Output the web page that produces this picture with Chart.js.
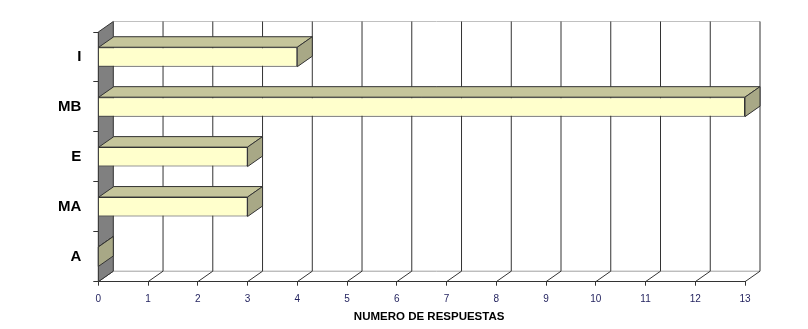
<!DOCTYPE html>
<html>
<head>
<meta charset="utf-8">
<script src="https://cdn.jsdelivr.net/npm/chart.js@4/dist/chart.umd.min.js"></script>
<style>
  html, body { margin: 0; padding: 0; background: #fff; }
  #wrap { width: 808px; height: 329px; }
</style>
</head>
<body>
<div id="wrap"><canvas id="chart" width="808" height="329"></canvas></div>
<script>
// categories, top to bottom
const categories = ['I', 'MB', 'E', 'MA', 'A'];
const respuestas = [4, 13, 3, 3, 0];
const xMin = 0;
const xMax = 13;
const axisTitle = 'NUMERO DE RESPUESTAS';

// depth of the 3D effect
const DX = 15;
const DY = 10.5;

const lineColor = '#333333';
const frontColor = '#ffffcc';
const topColor = '#c5c59b';
const sideColor = '#a8a886';
const wallColor = '#808080';
const fontFamily = 'Arial, "Liberation Sans", sans-serif';

function poly(ctx, pts, fill, stroke) {
    ctx.beginPath();
    ctx.moveTo(pts[0][0], pts[0][1]);
    for (let i = 1; i < pts.length; i++) {
        ctx.lineTo(pts[i][0], pts[i][1]);
    }
    ctx.closePath();
    if (fill) {
        ctx.fillStyle = fill;
        ctx.fill();
    }
    if (stroke) {
        ctx.strokeStyle = stroke;
        ctx.lineWidth = 1;
        ctx.stroke();
    }
}

function line(ctx, x1, y1, x2, y2, color) {
    ctx.beginPath();
    ctx.moveTo(x1, y1);
    ctx.lineTo(x2, y2);
    ctx.strokeStyle = color;
    ctx.lineWidth = 1;
    ctx.stroke();
}

// walls, floor and grid drawn behind the bars, 3D faces on top
const box3d = {
    id: 'box3d',
    beforeDatasetsDraw(chart) {
        const ctx = chart.ctx;
        const { left, right, top, bottom } = chart.chartArea;
        const xs = chart.scales.x;
        ctx.save();
        // back wall top and floor back edge
        line(ctx, left + DX, top - DY, right + DX, top - DY, '#c0c0c0');
        line(ctx, left + DX, bottom - DY, right + DX, bottom - DY, '#a0a0a0');
        // grid lines on back wall and floor
        for (let v = xMin; v <= xMax; v++) {
            const px = xs.getPixelForValue(v);
            line(ctx, px, bottom, px + DX, bottom - DY, lineColor);
            if (v > xMin) {
                line(ctx, px + DX, bottom - DY, px + DX, top - DY, lineColor);
            }
        }
        // left wall
        poly(ctx, [[left, top], [left + DX, top - DY], [left + DX, bottom - DY], [left, bottom]], wallColor, lineColor);
        ctx.restore();
    },
    afterDatasetsDraw(chart) {
        const ctx = chart.ctx;
        const meta = chart.getDatasetMeta(0);
        ctx.save();
        meta.data.forEach((bar) => {
            const p = bar.getProps(['x', 'y', 'base', 'height'], true);
            const x0 = p.base;
            const x1 = p.x;
            const yT = p.y - p.height / 2;
            const yB = p.y + p.height / 2;
            poly(ctx, [[x0, yT], [x0 + DX, yT - DY], [x1 + DX, yT - DY], [x1, yT]], topColor, lineColor);
            poly(ctx, [[x1, yT], [x1 + DX, yT - DY], [x1 + DX, yB - DY], [x1, yB]], sideColor, lineColor);
        });
        ctx.restore();
    },
    afterDraw(chart) {
        // axis title centred under the whole box, depth included
        const ctx = chart.ctx;
        const { left, right } = chart.chartArea;
        ctx.save();
        ctx.font = 'bold 11.5px ' + fontFamily;
        ctx.fillStyle = '#000';
        ctx.textAlign = 'center';
        ctx.textBaseline = 'middle';
        ctx.fillText(axisTitle, (left + right + DX) / 2, 317);
        ctx.restore();
    }
};

new Chart(document.getElementById('chart'), {
    type: 'bar',
    data: {
        labels: categories,
        datasets: [{
            data: respuestas,
            backgroundColor: frontColor,
            borderColor: lineColor,
            borderWidth: 1,
            barPercentage: 0.39,
            categoryPercentage: 1
        }]
    },
    options: {
        indexAxis: 'y',
        responsive: false,
        animation: false,
        layout: { padding: { top: 32, right: 63, left: 0, bottom: 0 } },
        plugins: {
            legend: { display: false },
            tooltip: { enabled: false }
        },
        scales: {
            x: {
                min: xMin,
                max: xMax,
                afterFit(scale) { scale.height = 47.3; },
                ticks: {
                    stepSize: 1,
                    color: '#1f1f5c',
                    font: { family: fontFamily, size: 10 },
                    padding: 8,
                    maxRotation: 0
                },
                grid: {
                    drawOnChartArea: false,
                    tickLength: 4,
                    color: lineColor
                },
                border: { display: true, color: lineColor }
            },
            y: {
                afterFit(scale) { scale.width = 98.3; },
                ticks: {
                    color: '#000',
                    font: { family: fontFamily, size: 15, weight: 'bold' },
                    padding: 12
                },
                grid: {
                    drawOnChartArea: false,
                    tickLength: 5,
                    color: lineColor
                },
                border: { display: true, color: lineColor }
            }
        }
    },
    plugins: [box3d]
});
</script>
</body>
</html>
